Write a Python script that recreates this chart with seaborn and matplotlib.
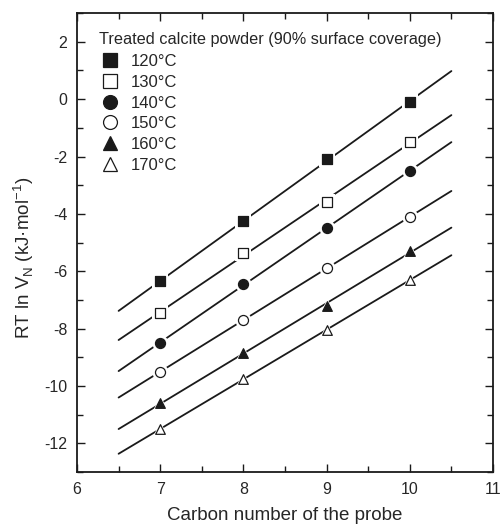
import numpy as np
import pandas as pd
import matplotlib
matplotlib.use("Agg")
import matplotlib.pyplot as plt
from matplotlib.lines import Line2D
from matplotlib.ticker import MultipleLocator
import seaborn as sns

carbon = [7, 8, 9, 10]
labels = ["120°C", "130°C", "140°C", "150°C", "160°C", "170°C"]
v120 = [-6.35, -4.25, -2.10, -0.10]
v130 = [-7.45, -5.35, -3.60, -1.50]
v140 = [-8.50, -6.45, -4.50, -2.50]
v150 = [-9.50, -7.70, -5.90, -4.10]
v160 = [-10.60, -8.85, -7.20, -5.30]
v170 = [-11.50, -9.75, -8.05, -6.30]
series = [v120, v130, v140, v150, v160, v170]
fit_range = [6.5, 10.5]

markers = ["s", "s", "o", "o", "^", "^"]
filled = [True, False, True, False, True, False]

sns.set_theme(style="ticks")
plt.rcParams["font.family"] = ["Liberation Sans", "DejaVu Sans"]
plt.rcParams["axes.unicode_minus"] = False

fig = plt.figure(figsize=(5.0, 5.24), dpi=100)
ax = fig.add_axes([0.154, 0.099, 0.832, 0.876])

for lab, vals, m, f in zip(labels, series, markers, filled):
    slope, icpt = np.polyfit(carbon, vals, 1)
    xf = np.array(fit_range)
    df_fit = pd.DataFrame({"x": xf, "y": slope * xf + icpt})
    sns.lineplot(data=df_fit, x="x", y="y", ax=ax, color="#1a1a1a", lw=1.3, zorder=1)
    df = pd.DataFrame({"x": carbon, "y": vals})
    ms = 48 if m != "o" else 52
    # white halo to create gaps in the line around markers
    sns.scatterplot(data=df, x="x", y="y", ax=ax, marker=m, s=ms * 2.6,
                    color="white", edgecolor="white", linewidth=0, zorder=2)
    sns.scatterplot(data=df, x="x", y="y", ax=ax, marker=m, s=ms,
                    color="#1a1a1a" if f else "white", edgecolor="#1a1a1a",
                    linewidth=0.9, zorder=3)

ax.set_xlim(6, 11)
ax.set_ylim(-13, 3)
ax.xaxis.set_major_locator(MultipleLocator(1))
ax.xaxis.set_minor_locator(MultipleLocator(0.5))
ax.yaxis.set_major_locator(MultipleLocator(2))
ax.yaxis.set_minor_locator(MultipleLocator(1))
ax.tick_params(which="both", direction="in", top=True, right=True,
               labeltop=False, labelright=False, width=1.0, color="#1a1a1a")
ax.tick_params(which="major", length=6, labelsize=11.5, pad=7)
ax.tick_params(which="minor", length=4)
for sp in ax.spines.values():
    sp.set_linewidth(1.3)
    sp.set_color("#1a1a1a")

ax.set_xlabel("Carbon number of the probe", fontsize=13.5)
ax.xaxis.set_label_coords(0.5, -0.077)
ax.set_ylabel("RT ln V$_\\mathregular{N}$ (kJ·mol$^\\mathregular{-1}$)", fontsize=13.5)
ax.yaxis.set_label_coords(-0.098, 0.466)

handles = []
for m, f in zip(markers, filled):
    handles.append(Line2D([], [], linestyle="none", marker=m, markersize=10,
                          markerfacecolor="#1a1a1a" if f else "white",
                          markeredgecolor="#1a1a1a", markeredgewidth=0.9))
leg = ax.legend(handles, labels, title="Treated calcite powder (90% surface coverage)",
                loc="upper left", bbox_to_anchor=(0.03, 0.98), frameon=False,
                fontsize=12, title_fontsize=11.7, alignment="left",
                handletextpad=0.55, labelspacing=0.34, borderaxespad=0.2,
                handlelength=1.3)
leg._legend_box.sep = 5

fig.savefig("out.png", dpi=100)
